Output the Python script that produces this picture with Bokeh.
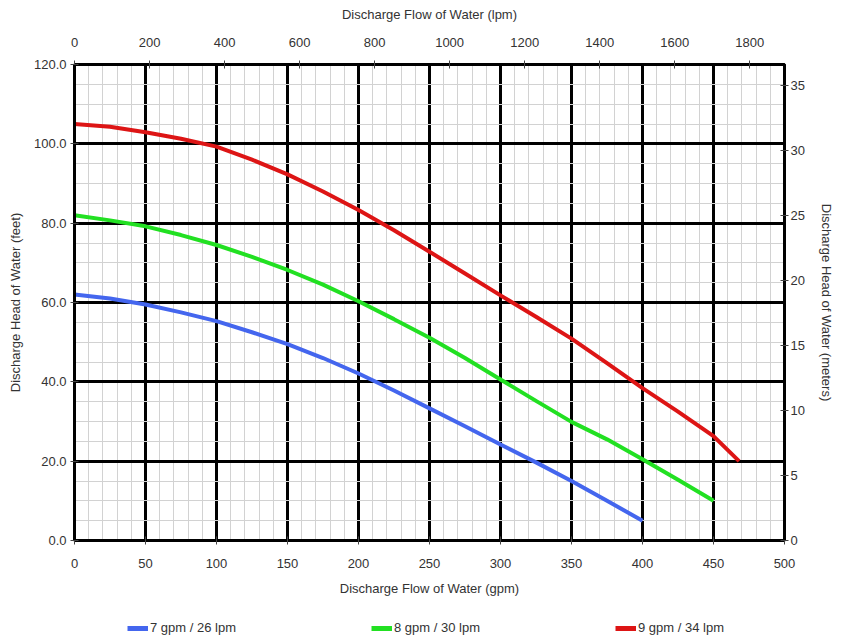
from bokeh.plotting import figure
from bokeh.layouts import column
from bokeh.models import (LinearAxis, Range1d, SingleIntervalTicker, FixedTicker,
                          Legend, LegendItem, PrintfTickFormatter)
from bokeh.embed import file_html
from bokeh.resources import INLINE

# Data
flow_7gpm = [0, 25, 50, 75, 100, 125, 150, 175, 200, 225, 250, 275, 300, 325, 350, 375, 400]
head_7gpm = [62, 61, 59.5, 57.5, 55.3, 52.5, 49.5, 46, 42.1, 37.8, 33.3, 28.8, 24.2, 19.7, 15, 10, 5]
flow_8gpm = [0, 25, 50, 75, 100, 125, 150, 175, 200, 225, 250, 275, 300, 325, 350, 375, 400, 425, 450]
head_8gpm = [82, 80.7, 79.2, 77, 74.5, 71.5, 68.2, 64.5, 60.3, 55.8, 51.1, 46, 40.6, 35.2, 29.9, 25.5, 20.5, 15.3, 10]
flow_9gpm = [0, 25, 50, 75, 100, 125, 150, 175, 200, 225, 250, 275, 300, 325, 350, 375, 400, 425, 450, 468]
head_9gpm = [105, 104.3, 102.9, 101.3, 99.3, 96, 92.3, 88, 83.3, 78.2, 72.8, 67.3, 61.8, 56.4, 50.9, 44.7, 38.4, 32.5, 26.3, 20]

labels = ["7 gpm / 26 lpm", "8 gpm / 30 lpm", "9 gpm / 34 lpm"]
colors = ["#4466ee", "#22e022", "#dd1515"]

lpm_ticks = [0, 200, 400, 600, 800, 1000, 1200, 1400, 1600, 1800]
m_ticks = [0, 5, 10, 15, 20, 25, 30, 35]

FONT = "Liberation Sans"
TXT = "#333333"

p = figure(frame_width=710, frame_height=476, output_backend="svg", toolbar_location=None,
           x_range=Range1d(0, 500), y_range=Range1d(0, 120),
           min_border=0,
           background_fill_color="white", border_fill_color="white")
p.margin = (3, 0, 0, 4)
p.extra_x_ranges = {"lpm": Range1d(0, 500 * 3.78541)}
p.extra_y_ranges = {"m": Range1d(0, 120 * 0.3048)}

bottom = p.below[0]
left = p.left[0]

xt = SingleIntervalTicker(interval=50, num_minor_ticks=5)
yt = SingleIntervalTicker(interval=20, num_minor_ticks=4)

bottom.ticker = xt
left.ticker = yt
p.xgrid.ticker = xt
p.ygrid.ticker = yt
for g in (p.xgrid, p.ygrid):
    g.grid_line_color = "black"
    g.grid_line_width = 3
    g.minor_grid_line_color = "#d2d2d2"
    g.minor_grid_line_width = 1
left.formatter = PrintfTickFormatter(format="%.1f")

top = LinearAxis(x_range_name="lpm", ticker=FixedTicker(ticks=lpm_ticks),
                 axis_label="Discharge Flow of Water (lpm)")
right = LinearAxis(y_range_name="m", ticker=FixedTicker(ticks=m_ticks),
                   axis_label="Discharge Head of Water (meters)")
p.add_layout(top, "above")
p.add_layout(right, "right")

bottom.axis_label = "Discharge Flow of Water (gpm)"
left.axis_label = "Discharge Head of Water (feet)"

for ax in (bottom, left, top, right):
    ax.axis_line_color = "black"
    ax.axis_line_width = 3
    ax.major_tick_line_color = "#444444"
    ax.major_tick_line_width = 1
    ax.major_tick_in = 4
    ax.major_tick_out = 4
    ax.minor_tick_line_color = None
    ax.major_label_text_font = FONT
    ax.major_label_text_font_size = "13px"
    ax.major_label_text_color = TXT
    ax.axis_label_text_font = FONT
    ax.axis_label_text_font_size = "13px"
    ax.axis_label_text_font_style = "normal"
    ax.axis_label_text_color = TXT

bottom.major_label_standoff = 14
bottom.axis_label_standoff = 10
top.major_label_standoff = 14
top.axis_label_standoff = 13
left.major_label_standoff = 4
left.axis_label_standoff = 8
right.major_label_standoff = 2
right.axis_label_standoff = 11

p.outline_line_color = "black"
p.outline_line_width = 3

r1 = p.line(flow_7gpm, head_7gpm, line_color=colors[0], line_width=4)
r2 = p.line(flow_8gpm, head_8gpm, line_color=colors[1], line_width=4)
r3 = p.line(flow_9gpm, head_9gpm, line_color=colors[2], line_width=4)

# Legend strip below the chart (the series lie outside this strip's ranges,
# so only their legend swatches show)
lg = figure(frame_width=825, frame_height=38, output_backend="svg", toolbar_location=None,
            x_range=Range1d(0, 1), y_range=Range1d(0, 1), min_border=0,
            x_axis_location=None, y_axis_location=None,
            background_fill_color="white", border_fill_color="white")
lg.grid.visible = False
lg.outline_line_color = None
d1 = lg.line(flow_7gpm, head_7gpm, line_color=colors[0], line_width=5)
d2 = lg.line(flow_8gpm, head_8gpm, line_color=colors[1], line_width=5)
d3 = lg.line(flow_9gpm, head_9gpm, line_color=colors[2], line_width=5)
legend = Legend(items=[LegendItem(label=labels[0], renderers=[d1]),
                       LegendItem(label=labels[1], renderers=[d2]),
                       LegendItem(label=labels[2], renderers=[d3])],
                orientation="horizontal", location=(127, 1), spacing=135,
                glyph_width=21, glyph_height=14, label_standoff=2, padding=0, margin=0,
                label_height=14,
                border_line_color=None, background_fill_alpha=0,
                label_text_font=FONT, label_text_font_size="13px", label_text_color=TXT)
lg.add_layout(legend, "center")

layout = column(p, lg, spacing=0)
open("out.html", "w").write(file_html(layout, INLINE))
